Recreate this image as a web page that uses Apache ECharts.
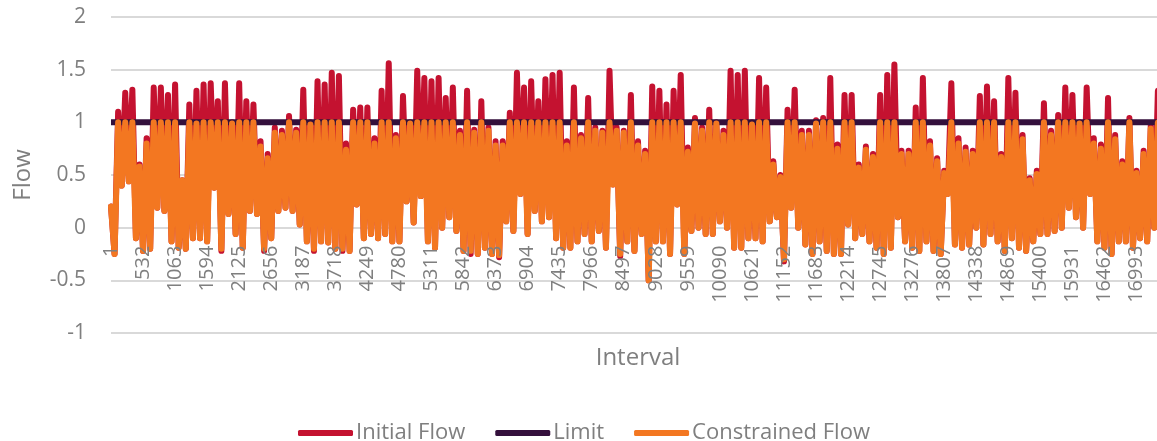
<!DOCTYPE html>
<html>
<head>
<meta charset="utf-8">
<script src="https://cdn.jsdelivr.net/npm/echarts@6/dist/echarts.min.js"></script>
<style>
html,body{margin:0;padding:0;background:#fff;}
#wrap{position:relative;width:1157px;height:441px;}
#chart,#labels{position:absolute;left:0;top:0;width:1157px;height:441px;}
#labels{pointer-events:none;}
</style>
</head>
<body>
<div id="wrap"><div id="chart"></div><div id="labels"></div></div>
<script>
// Interval numbers (sampled every 59 intervals; axis shows every 531)
const firstInterval = 1;
const intervalStep = 59;
const intervalCount = 297;
const categories = [];
for (let i = 0; i < intervalCount; i++) categories.push(String(firstInterval + i * intervalStep));

const initialFlow = [
  0.2, -0.25, 1.1, 0.4, 1.28, 0.44, 1.31, -0.1, 0.6, -0.22,
  0.85, -0.2, 1.33, 0.19, 1.33, 0.16, 1.26, -0.13, 1.36, -0.19,
  0.45, -0.2, 1.17, -0.1, 1.3, -0.1, 1.36, -0.13, 1.37, 0.38,
  1.2, -0.22, 1.37, 0.13, 1.0, -0.06, 1.37, -0.19, 1.2, 0.16,
  1.17, 0.13, 0.82, -0.22, 0.7, -0.1, 0.95, 0.16, 0.92, 0.19,
  1.06, 0.16, 0.93, 0.03, 1.31, -0.13, 1.0, -0.22, 1.39, -0.13,
  1.36, -0.14, 1.47, -0.2, 1.44, -0.22, 0.8, -0.22, 1.12, 0.22,
  1.14, -0.1, 1.14, -0.06, 0.85, -0.1, 1.3, -0.06, 1.56, -0.13,
  0.88, -0.13, 1.25, 0.25, 1.0, 0.05, 1.49, 0.3, 1.42, -0.13,
  1.39, -0.19, 1.42, 0.0, 1.23, 0.1, 1.33, -0.03, 0.92, -0.22,
  1.3, -0.25, 0.93, -0.25, 1.2, -0.19, 0.95, -0.25, 0.82, -0.28,
  0.82, 0.06, 1.09, -0.03, 1.47, 0.32, 1.33, -0.06, 1.39, 0.16,
  1.2, 0.06, 1.41, 0.1, 1.45, -0.1, 1.47, -0.19, 0.82, -0.19,
  1.33, -0.13, 0.88, -0.06, 1.23, -0.13, 0.95, -0.03, 0.92, -0.19,
  1.49, 0.41, 0.95, -0.27, 0.92, -0.13, 1.26, -0.22, 0.82, -0.06,
  0.73, -0.5, 1.34, -0.13, 1.3, -0.13, 1.17, -0.25, 1.3, 0.22,
  1.45, -0.25, 0.76, -0.03, 1.04, 0.0, 0.95, -0.06, 1.12, -0.06,
  1.0, 0.06, 0.92, 0.0, 1.49, -0.19, 1.45, -0.19, 1.49, -0.1,
  1.0, -0.1, 1.42, -0.13, 1.33, 0.06, 0.63, 0.1, 0.5, -0.32,
  1.12, 0.19, 1.31, 0.0, 0.92, -0.16, 0.92, -0.25, 1.02, -0.13,
  1.04, -0.22, 1.42, -0.25, 0.79, -0.25, 1.26, 0.03, 1.26, -0.1,
  0.6, -0.06, 0.77, -0.13, 0.7, -0.19, 1.26, -0.25, 1.45, -0.19,
  1.55, 0.1, 0.73, -0.13, 0.73, -0.19, 1.14, -0.22, 1.42, -0.13,
  0.82, -0.22, 0.66, -0.25, 0.54, 0.32, 1.37, -0.16, 0.85, -0.19,
  0.76, -0.16, 0.73, 0.0, 1.25, -0.16, 1.34, -0.06, 1.2, -0.13,
  0.7, -0.22, 1.42, -0.1, 1.28, -0.19, 0.88, -0.22, 0.47, -0.13,
  0.54, -0.06, 1.18, -0.06, 0.92, -0.03, 1.07, 0.0, 1.33, 0.19,
  1.26, 0.1, 1.0, 0.0, 1.33, 0.32, 0.85, -0.13, 0.79, -0.19,
  1.23, -0.25, 0.88, -0.13, 0.63, -0.13, 1.04, -0.19, 0.54, -0.1,
  0.73, -0.13, 0.97, 0.0, 1.3, 0.1, 0.9
];

const constrainedFlow = [
  0.2, -0.25, 1.0, 0.4, 1.0, 0.44, 1.0, -0.1, 0.58, -0.22,
  0.8, -0.2, 1.0, 0.19, 1.0, 0.16, 1.0, -0.13, 1.0, -0.19,
  0.45, -0.2, 1.0, -0.1, 0.99, -0.1, 1.0, -0.13, 1.0, 0.38,
  1.0, -0.2, 1.0, 0.13, 0.99, -0.06, 1.0, -0.19, 1.0, 0.16,
  1.0, 0.13, 0.77, -0.2, 0.66, -0.1, 0.9, 0.16, 0.88, 0.19,
  1.0, 0.16, 0.9, 0.03, 1.0, -0.13, 0.98, -0.2, 1.0, -0.13,
  1.0, -0.14, 1.0, -0.2, 1.0, -0.2, 0.74, -0.22, 1.0, 0.22,
  1.0, -0.1, 1.0, -0.06, 0.8, -0.1, 1.0, -0.06, 1.0, -0.13,
  0.85, -0.13, 1.0, 0.25, 0.99, 0.05, 1.0, 0.3, 1.0, -0.13,
  1.0, -0.19, 1.0, 0.0, 1.0, 0.1, 1.0, -0.03, 0.88, -0.22,
  1.0, -0.22, 0.9, -0.25, 1.0, -0.19, 0.92, -0.25, 0.78, -0.26,
  0.78, 0.06, 1.0, -0.03, 1.0, 0.32, 1.0, -0.06, 1.0, 0.16,
  1.0, 0.06, 1.0, 0.1, 1.0, -0.1, 1.0, -0.19, 0.78, -0.19,
  1.0, -0.13, 0.85, -0.06, 1.0, -0.13, 0.92, -0.03, 0.9, -0.19,
  1.0, 0.41, 0.92, -0.25, 0.9, -0.13, 1.0, -0.22, 0.78, -0.06,
  0.7, -0.5, 1.0, -0.13, 1.0, -0.13, 1.0, -0.25, 1.0, 0.22,
  1.0, -0.25, 0.72, -0.03, 0.99, 0.0, 0.92, -0.06, 1.0, -0.06,
  0.99, 0.06, 0.88, 0.0, 1.0, -0.19, 1.0, -0.19, 1.0, -0.1,
  0.98, -0.1, 1.0, -0.13, 1.0, 0.06, 0.6, 0.1, 0.48, -0.3,
  1.0, 0.19, 1.0, 0.0, 0.88, -0.16, 0.88, -0.25, 0.99, -0.13,
  1.0, -0.22, 1.0, -0.25, 0.75, -0.25, 1.0, 0.03, 1.0, -0.1,
  0.57, -0.06, 0.74, -0.13, 0.67, -0.19, 1.0, -0.25, 1.0, -0.19,
  1.0, 0.1, 0.7, -0.13, 0.7, -0.19, 1.0, -0.22, 1.0, -0.13,
  0.78, -0.22, 0.63, -0.25, 0.52, 0.32, 1.0, -0.16, 0.8, -0.19,
  0.72, -0.16, 0.7, 0.0, 1.0, -0.16, 1.0, -0.06, 1.0, -0.13,
  0.67, -0.22, 1.0, -0.1, 1.0, -0.19, 0.84, -0.22, 0.45, -0.13,
  0.51, -0.06, 1.0, -0.06, 0.88, -0.03, 1.0, 0.0, 1.0, 0.19,
  1.0, 0.1, 0.99, 0.0, 1.0, 0.32, 0.8, -0.13, 0.75, -0.19,
  1.0, -0.25, 0.84, -0.13, 0.6, -0.13, 1.0, -0.19, 0.52, -0.1,
  0.7, -0.13, 0.94, 0.0, 1.0, 0.1, 0.88
];

const limitLevel = 1;
const limitValues = categories.map(() => limitLevel);

const seriesNames = ['Initial Flow', 'Limit', 'Constrained Flow'];
const seriesColors = ['#C41230', '#34103C', '#F37721'];

const yTicks = { min: -1, max: 2, interval: 0.5 };

const font = "'Open Sans', 'Noto Sans', sans-serif";
const textColor = '#7f7f7f';
const gridColor = '#d9d9d9';

const gridTop = 17, gridBottom = 108, chartHeight = 441;
// place the category axis where the value axis crosses zero (as in the original)
const plotHeight = chartHeight - gridTop - gridBottom;
const zeroOffset = -plotHeight * (0 - yTicks.min) / (yTicks.max - yTicks.min);

const gridOpt = { left: 111, right: -8, top: gridTop, bottom: gridBottom, containLabel: false, outerBoundsMode: 'none' };

function xAxisOpt(showLabels) {
  return {
    type: 'category',
    data: categories,
    boundaryGap: false,
    position: 'bottom',
    offset: zeroOffset,
    name: showLabels ? '' : 'Interval',
    nameLocation: 'middle',
    nameGap: 118,
    nameTextStyle: { fontFamily: font, fontSize: 24, color: textColor },
    axisLine: { show: false, onZero: false },
    axisTick: { show: false },
    axisLabel: {
      show: showLabels,
      interval: 8,
      rotate: 90,
      margin: 18,
      fontFamily: font,
      fontSize: 20,
      color: textColor
    },
    splitLine: { show: false }
  };
}

// main chart: grid, value axis, series, legend
const chart = echarts.init(document.getElementById('chart'), null, { renderer: 'canvas' });
chart.setOption({
  animation: false,
  backgroundColor: '#ffffff',
  textStyle: { fontFamily: font },
  color: seriesColors,
  grid: gridOpt,
  legend: {
    data: seriesNames,
    top: 417,
    left: 293,
    icon: 'roundRect',
    itemWidth: 55,
    itemHeight: 6,
    itemGap: 30,
    textStyle: { fontFamily: font, fontSize: 22, color: textColor, padding: [0, 0, 0, -2] }
  },
  xAxis: xAxisOpt(false),
  yAxis: {
    type: 'value',
    min: yTicks.min,
    max: yTicks.max,
    interval: yTicks.interval,
    name: 'Flow',
    nameLocation: 'middle',
    nameRotate: 90,
    nameGap: 76,
    nameTextStyle: { fontFamily: font, fontSize: 24, color: textColor },
    axisLine: { show: false },
    axisTick: { show: false },
    axisLabel: { margin: 25, fontFamily: font, fontSize: 21, color: textColor },
    splitLine: { lineStyle: { color: gridColor, width: 2 } }
  },
  series: [
    {
      name: seriesNames[0], type: 'line', data: initialFlow,
      showSymbol: false, symbol: 'none',
      lineStyle: { width: 6, color: seriesColors[0], cap: 'round', join: 'round' }
    },
    {
      name: seriesNames[1], type: 'line', data: limitValues,
      showSymbol: false, symbol: 'none',
      lineStyle: { width: 6, color: seriesColors[1] }
    },
    {
      name: seriesNames[2], type: 'line', data: constrainedFlow,
      showSymbol: false, symbol: 'none',
      lineStyle: { width: 6, color: seriesColors[2], cap: 'round', join: 'round' }
    }
  ]
});

// overlay: category tick labels drawn above the data, as in the original
const labelChart = echarts.init(document.getElementById('labels'), null, { renderer: 'canvas' });
labelChart.setOption({
  animation: false,
  backgroundColor: 'transparent',
  textStyle: { fontFamily: font },
  grid: gridOpt,
  xAxis: xAxisOpt(true),
  yAxis: {
    type: 'value',
    min: yTicks.min,
    max: yTicks.max,
    interval: yTicks.interval,
    show: false
  },
  series: []
});
</script>
</body>
</html>
